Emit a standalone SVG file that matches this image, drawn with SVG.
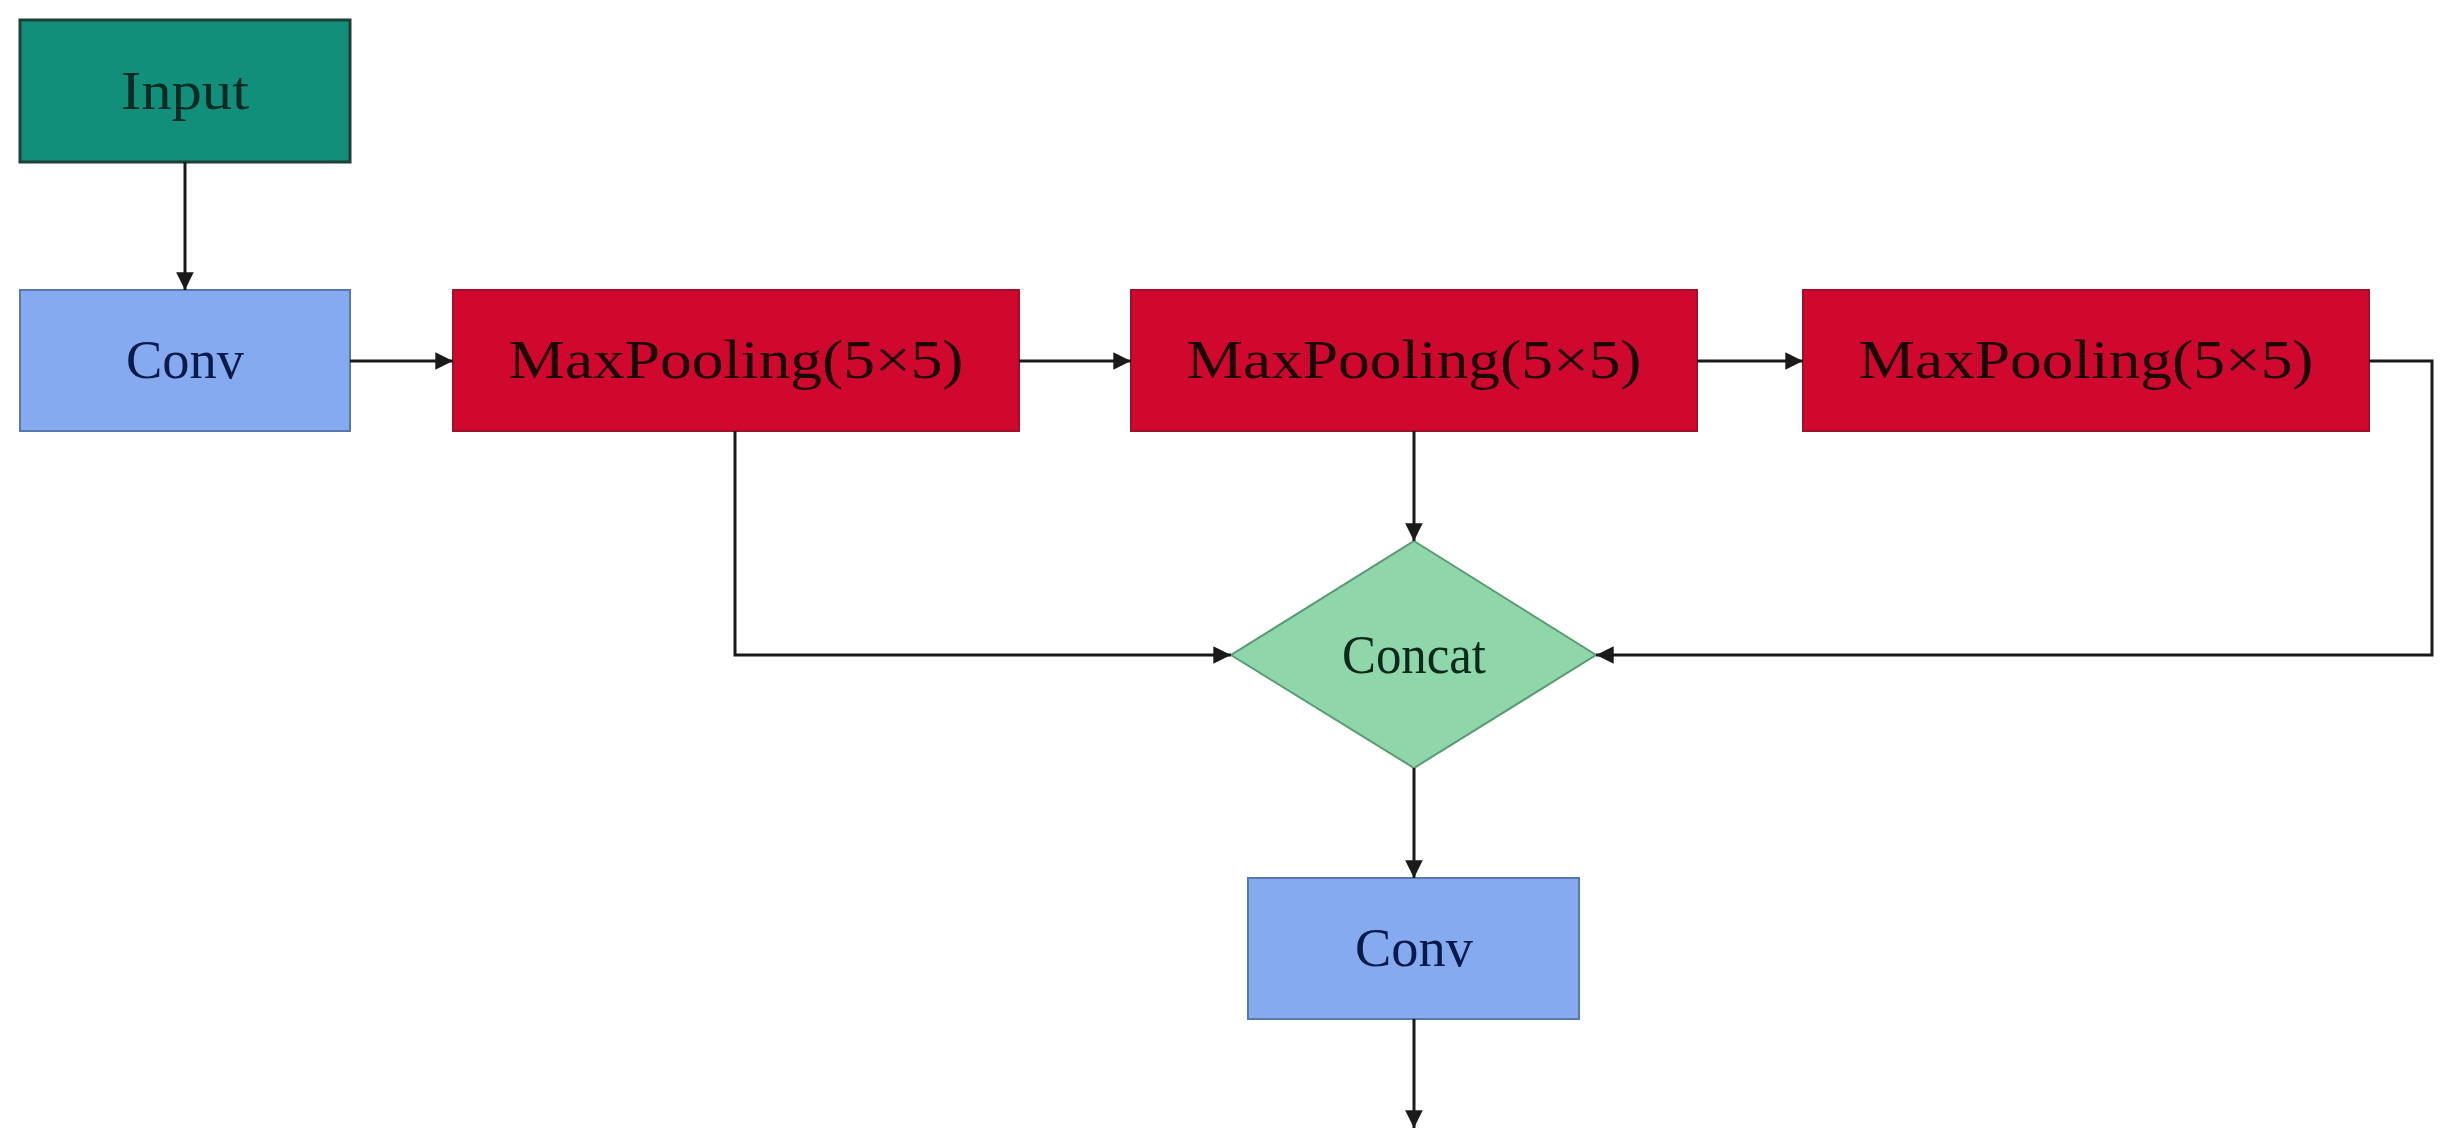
<svg xmlns="http://www.w3.org/2000/svg" width="2459" height="1148" viewBox="0 0 2459 1148">
<style>
text{font-family:"Liberation Serif","Times New Roman",serif;font-size:54px;text-anchor:middle;dominant-baseline:central}
.c{stroke:#1a1a1a;stroke-width:3;fill:none;marker-end:url(#a)}
</style>
<defs><marker id="a" viewBox="0 0 10 10" refX="10" refY="5" markerWidth="8" markerHeight="8" markerUnits="userSpaceOnUse" orient="auto" style="overflow:visible"><path d="M0,0L10,5L0,10z" fill="#1a1a1a" transform="scale(2.2) translate(-5.5,-2.7)"/></marker></defs>
<rect width="2459" height="1148" fill="#fff"/>
<g id="input"><rect x="20" y="20" width="330" height="142" fill="#118f7a" stroke="#1f3f38" stroke-width="3"/><text x="185" y="91" fill="#0b2a22" textLength="128" lengthAdjust="spacingAndGlyphs">Input</text></g>
<g id="conv1"><rect x="20" y="290" width="330" height="141" fill="#86aaf0" stroke="#5a78b0" stroke-width="2"/><text x="185" y="360" fill="#0a1a4a" textLength="118" lengthAdjust="spacingAndGlyphs">Conv</text></g>
<g id="mp1"><rect x="453" y="290" width="566" height="141" fill="#d0082e" stroke="#a0102a" stroke-width="2"/><text x="736" y="360" fill="#1a0508" textLength="455" lengthAdjust="spacingAndGlyphs">MaxPooling(5×5)</text></g>
<g id="mp2"><rect x="1131" y="290" width="566" height="141" fill="#d0082e" stroke="#a0102a" stroke-width="2"/><text x="1414" y="360" fill="#1a0508" textLength="455" lengthAdjust="spacingAndGlyphs">MaxPooling(5×5)</text></g>
<g id="mp3"><rect x="1803" y="290" width="566" height="141" fill="#d0082e" stroke="#a0102a" stroke-width="2"/><text x="2086" y="360" fill="#1a0508" textLength="455" lengthAdjust="spacingAndGlyphs">MaxPooling(5×5)</text></g>
<g id="concat"><polygon points="1414,541 1596,655 1414,768 1231,655" fill="#8fd6aa" stroke="#5a9a74" stroke-width="2"/><text x="1414" y="655" fill="#0b2a1a" textLength="144" lengthAdjust="spacingAndGlyphs">Concat</text></g>
<g id="conv2"><rect x="1248" y="878" width="331" height="141" fill="#86aaf0" stroke="#5a78b0" stroke-width="2"/><text x="1414" y="948" fill="#0a1a4a" textLength="118" lengthAdjust="spacingAndGlyphs">Conv</text></g>
<g id="connectors">
<path class="c" d="M185,162V290"/>
<path class="c" d="M350,361H453"/>
<path class="c" d="M1019,361H1131"/>
<path class="c" d="M1697,361H1803"/>
<path class="c" d="M1414,431V541"/>
<path class="c" d="M735,431V655H1231"/>
<path class="c" d="M2369,361H2432V655H1596"/>
<path class="c" d="M1414,768V878"/>
<path class="c" d="M1414,1019V1128"/>
</g>
</svg>
